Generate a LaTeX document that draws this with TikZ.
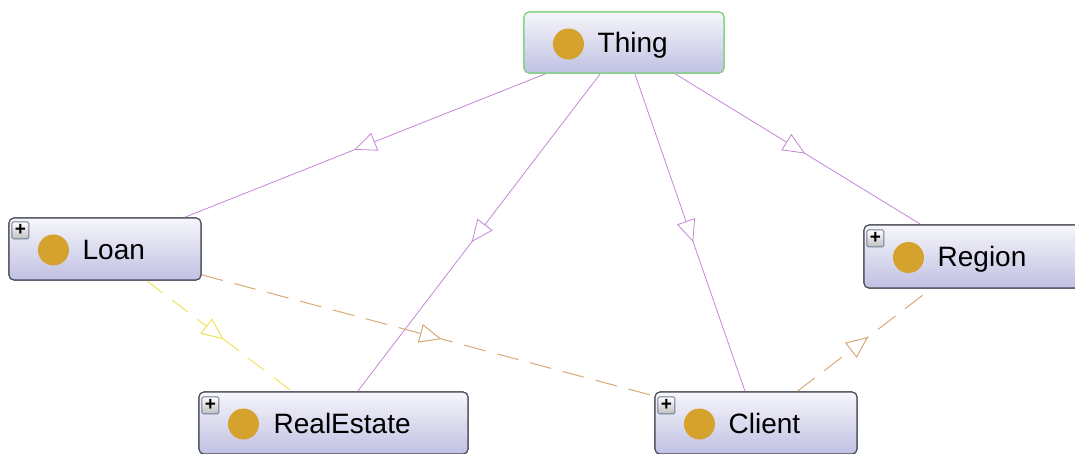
\documentclass[tikz,border=0pt]{standalone}
\usepackage{fontspec}
\setmainfont{Liberation Sans}
\usetikzlibrary{arrows.meta,decorations.markings,calc}

\definecolor{boxtop}{HTML}{F6F6FB}
\definecolor{boxbot}{HTML}{C0C0E3}
\definecolor{boxline}{HTML}{4A4A58}
\definecolor{thingline}{HTML}{7CCF7C}
\definecolor{dotcol}{HTML}{D6A22E}
\definecolor{isa}{HTML}{C586D6}
\definecolor{yeldash}{HTML}{F0E25A}
\definecolor{tandash}{HTML}{D9A877}
\definecolor{plusline}{HTML}{6E7E98}

\tikzset{
  classbox/.style={draw=boxline, line width=1.1pt, rounded corners=5pt,
    top color=boxtop, bottom color=boxbot, inner sep=0pt},
  dot/.style={circle, fill=dotcol, draw=none, minimum size=31pt, inner sep=0pt},
  lbl/.style={anchor=base west, inner sep=0pt, text=black,
    font=\fontsize{28}{30}\selectfont},
  plusbox/.style={draw=plusline, line width=0.8pt, rounded corners=1.5pt,
    top color=white, bottom color=gray!50, minimum size=17pt, inner sep=0pt,
    font=\bfseries\fontsize{19}{19}\selectfont, anchor=north west},
  midtip/.style={postaction={decorate}, decoration={markings,
    mark=at position 0.53 with {\arrow{Triangle[open, fill=white, length=22pt, width=19pt]}}}},
  isaedge/.style={draw=isa, line width=0.8pt, midtip},
  yeledge/.style={draw=yeldash, line width=1pt, dash pattern=on 20pt off 12pt, midtip},
  tanedge/.style={draw=tandash, line width=1pt, dash pattern=on 22pt off 12pt, midtip},
}

\begin{document}
\begin{tikzpicture}[x=1pt, y=-1pt]
  \useasboundingbox (0,0) rectangle (1075,453);
  \begin{scope}
    \clip (0,0) rectangle (1075,453);

    % class boxes
    \node[classbox, draw=thingline, minimum width=200pt, minimum height=61pt] (thing) at (624,42.5) {};
    \node[classbox, minimum width=192pt, minimum height=62pt] (loan) at (105,249) {};
    \node[classbox, minimum width=218pt, minimum height=63pt] (region) at (973,256.5) {};
    \node[classbox, minimum width=269pt, minimum height=62pt] (realestate) at (333.5,423) {};
    \node[classbox, minimum width=202pt, minimum height=62pt] (client) at (756,423) {};

    % subclass links from Thing
    \path[isaedge] (thing) -- (loan);
    \path[isaedge] (thing) -- (realestate);
    \path[isaedge] (thing) -- (client);
    \path[isaedge] (thing) -- (region);

    % other relations
    \path[yeledge] (loan) -- (realestate);
    \path[tanedge] (loan) -- (client);
    \path[tanedge] (client) -- (region);

    % redraw boxes on top of the connectors
    \node[classbox, draw=thingline, minimum width=200pt, minimum height=61pt] at (thing) {};
    \node[classbox, minimum width=192pt, minimum height=62pt] at (loan) {};
    \node[classbox, minimum width=218pt, minimum height=63pt] at (region) {};
    \node[classbox, minimum width=269pt, minimum height=62pt] at (realestate) {};
    \node[classbox, minimum width=202pt, minimum height=62pt] at (client) {};

    % dots and names
    \node[dot] (thingdot) at ($(thing.west)+(45,1.5)$) {};
    \node[lbl] (thinglbl) at ($(thing.west)+(74,10)$) {Thing};

    \node[dot] (loandot) at ($(loan.west)+(45,1)$) {};
    \node[lbl] (loanlbl) at ($(loan.west)+(74,10)$) {Loan};
    \node[plusbox] (loanplus) at ($(loan.north west)+(3,4)$) {+};

    \node[dot] (regiondot) at ($(region.west)+(45,1)$) {};
    \node[lbl] (regionlbl) at ($(region.west)+(74,10)$) {Region};
    \node[plusbox] (regionplus) at ($(region.north west)+(3,5)$) {+};

    \node[dot] (realestatedot) at ($(realestate.west)+(45,1)$) {};
    \node[lbl] (realestatelbl) at ($(realestate.west)+(75,10)$) {RealEstate};
    \node[plusbox] (realestateplus) at ($(realestate.north west)+(3,5)$) {+};

    \node[dot] (clientdot) at ($(client.west)+(45,1)$) {};
    \node[lbl] (clientlbl) at ($(client.west)+(74,10)$) {Client};
    \node[plusbox] (clientplus) at ($(client.north west)+(3,5)$) {+};
  \end{scope}
\end{tikzpicture}
\end{document}
